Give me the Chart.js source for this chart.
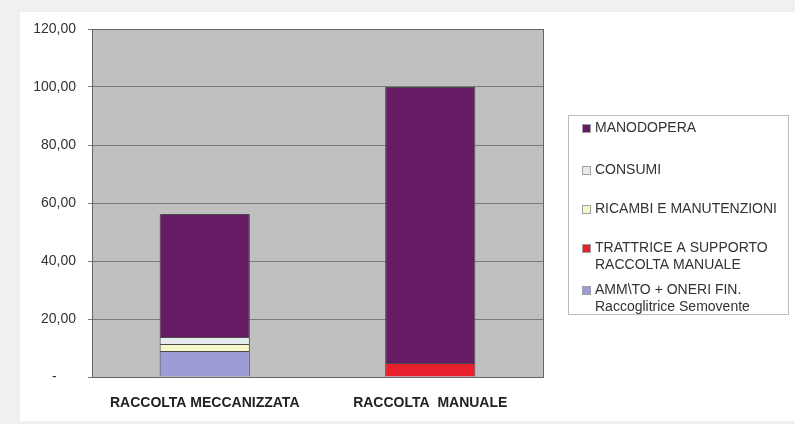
<!DOCTYPE html>
<html>
<head>
<meta charset="utf-8">
<script src="https://cdn.jsdelivr.net/npm/chart.js@4.4.0/dist/chart.umd.min.js"></script>
<style>
  html, body { margin: 0; padding: 0; background: #f0f0f0; }
  #wrap { position: relative; width: 795px; height: 424px; }
</style>
</head>
<body>
<div id="wrap"><canvas id="costChart" width="795" height="424"></canvas></div>
<script>
const categories = ['RACCOLTA MECCANIZZATA', 'RACCOLTA  MANUALE'];
const seriesNames = [
    ['AMM\\TO + ONERI FIN.', 'Raccoglitrice Semovente'],
    ['TRATTRICE A SUPPORTO', 'RACCOLTA MANUALE'],
    ['RICAMBI E MANUTENZIONI'],
    ['CONSUMI'],
    ['MANODOPERA']
];
const ammortamento = [9.0, null];
const trattrice = [null, 4.8];
const ricambi = [2.4, null];
const consumi = [2.4, null];
const manodopera = [42.4, 95.2];
const yTicks = [0, 20, 40, 60, 80, 100, 120];

const seriesValues = [ammortamento, trattrice, ricambi, consumi, manodopera];
const seriesColors = ['#9c9cd8', '#e8202c', '#f6f6c8', '#e6ecee', '#661c64'];
const FONT = '"Liberation Sans", Arial, sans-serif';

document.addEventListener('DOMContentLoaded', function () {
    const ctx = document.getElementById('costChart').getContext('2d');

    function formatTick(value) {
        if (value === 0) return '-     ';
        return value.toFixed(2).replace('.', ',');
    }

    // page panel, grey plot background and plot border
    const backgroundPlugin = {
        id: 'backgroundPlugin',
        beforeDraw(chart) {
            const c = chart.ctx;
            const area = chart.chartArea;
            c.save();
            c.fillStyle = '#f0f0f0';
            c.fillRect(0, 0, chart.width, chart.height);
            c.fillStyle = '#ffffff';
            c.fillRect(20, 12, chart.width - 20, 409);
            c.fillStyle = '#c0c0c0';
            c.fillRect(area.left, area.top, area.right - area.left, area.bottom - area.top);
            c.restore();
        },
        afterDatasetsDraw(chart) {
            const c = chart.ctx;
            const area = chart.chartArea;
            c.save();
            c.strokeStyle = '#666666';
            c.lineWidth = 1;
            c.strokeRect(Math.round(area.left) + 0.5, Math.round(area.top) + 0.5,
                Math.round(area.right - area.left), Math.round(area.bottom - area.top));
            c.restore();
        }
    };

    // Excel style legend box on the right, reversed order
    const legendRowY = [128, 170, 209, 248, 290];
    const boxLegendPlugin = {
        id: 'boxLegendPlugin',
        afterDraw(chart) {
            const c = chart.ctx;
            c.save();
            c.strokeStyle = '#bdbdbd';
            c.lineWidth = 1;
            c.strokeRect(568.5, 115.5, 220, 199);
            c.font = '14px ' + FONT;
            c.textBaseline = 'middle';
            const datasets = chart.data.datasets;
            for (let i = datasets.length - 1; i >= 0; i--) {
                const ds = datasets[i];
                const y = legendRowY[datasets.length - 1 - i];
                c.fillStyle = ds.backgroundColor;
                c.fillRect(582, y - 4, 9, 9);
                c.strokeStyle = '#a0a0a0';
                c.strokeRect(582.5, y - 3.5, 8, 8);
                c.fillStyle = '#333333';
                ds.label.forEach(function (line, k) {
                    c.fillText(line, 595, y + k * 17);
                });
            }
            c.restore();
        }
    };

    const datasets = seriesValues.map(function (values, i) {
        return {
            label: seriesNames[i],
            data: values,
            backgroundColor: seriesColors[i],
            borderColor: '#4a4a4a',
            borderWidth: 1,
            barPercentage: 0.4,
            categoryPercentage: 1.0
        };
    });

    new Chart(ctx, {
        type: 'bar',
        data: { labels: categories, datasets: datasets },
        plugins: [backgroundPlugin, boxLegendPlugin],
        options: {
            responsive: false,
            animation: false,
            layout: { padding: { left: 20, right: 252, top: 29, bottom: 3 } },
            plugins: {
                legend: { display: false },
                tooltip: { enabled: false }
            },
            scales: {
                x: {
                    stacked: true,
                    grid: { display: false },
                    border: { display: true, color: '#555555' },
                    ticks: {
                        color: '#222222',
                        font: { family: FONT, size: 14, weight: 'bold' },
                        padding: 10,
                        maxRotation: 0
                    },
                    afterFit(scale) { scale.height = 44; }
                },
                y: {
                    stacked: true,
                    min: 0,
                    max: 120,
                    afterBuildTicks(scale) {
                        scale.ticks = yTicks.map(function (v) { return { value: v }; });
                    },
                    grid: { color: '#7a7a7a', tickLength: 4, tickColor: '#7a7a7a' },
                    border: { display: true, color: '#555555' },
                    ticks: {
                        color: '#333333',
                        font: { family: FONT, size: 14 },
                        padding: 12,
                        callback: formatTick
                    },
                    afterFit(scale) { scale.width = 72; }
                }
            }
        }
    });
});
</script>
</body>
</html>
